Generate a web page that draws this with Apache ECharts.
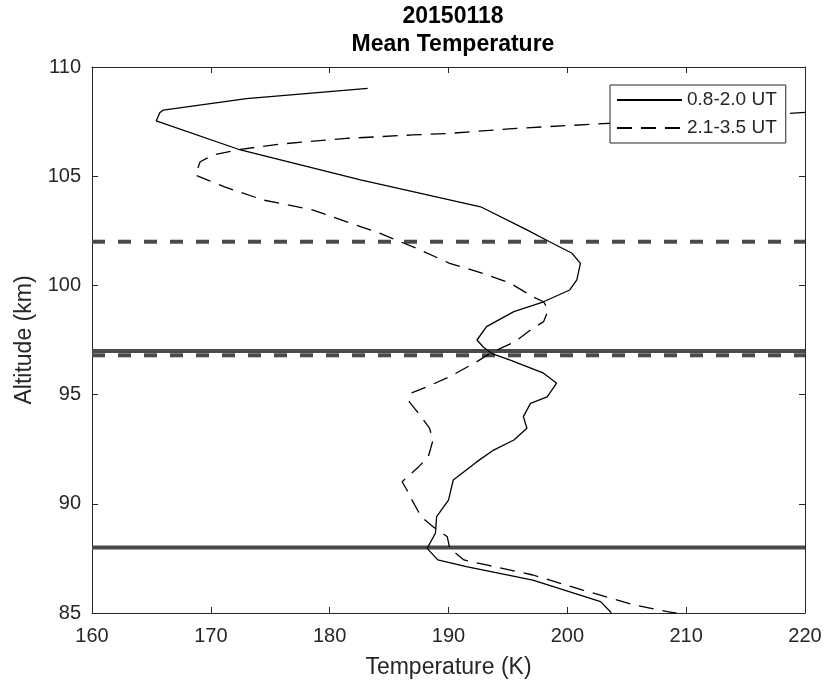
<!DOCTYPE html>
<html>
<head>
<meta charset="utf-8">
<script src="https://cdn.jsdelivr.net/npm/echarts@6/dist/echarts.min.js"></script>
<style>
  html, body { margin: 0; padding: 0; background: #fff; }
  #chart { width: 825px; height: 687px; }
</style>
</head>
<body>
<div id="chart"></div>
<script>
// Mean temperature profiles, 2015-01-18
const titleLines = ['20150118', 'Mean Temperature'];
const seriesNames = ['0.8-2.0 UT', '2.1-3.5 UT'];

// 0.8-2.0 UT profile, listed from top down
const earlyAlt = [109.02, 108.55, 108.03, 107.9, 107.53, 106.2, 104.83, 104.29, 103.6, 102.54,
  102.0, 101.47, 101.01, 100.25, 99.79, 99.25, 98.8, 98.11, 97.5, 97.19,
  96.89, 96.58, 95.98, 95.52, 94.9, 94.6, 93.99, 93.46, 92.92, 92.46,
  91.93, 91.09, 90.17, 89.41, 88.65, 87.96, 87.43, 87.12, 86.51, 85.52, 85.01];
const earlyTemp = [183.2, 173.0, 166.0, 165.7, 165.4, 172.5, 182.6, 187.0, 192.7, 196.6,
  198.5, 200.4, 201.1, 200.8, 200.2, 198.0, 195.5, 193.2, 192.4, 192.9,
  193.6, 195.2, 198.0, 199.1, 198.3, 196.9, 196.3, 196.6, 195.5, 193.8,
  192.4, 190.4, 190.0, 189.0, 188.9, 188.2, 189.1, 191.5, 197.1, 202.8, 203.7];

// 2.1-3.5 UT profile, listed from top down
const lateAlt = [107.92, 107.62, 107.39, 107.19, 106.96, 106.89, 106.73, 106.47, 106.23, 105.97,
  105.66, 105.05, 104.83, 104.52, 103.91, 103.45, 102.39, 101.7, 101.01, 100.55,
  100.1, 99.48, 99.25, 98.87, 98.34, 97.96, 97.42, 97.17, 96.89, 96.51,
  95.82, 95.36, 95.06, 94.67, 93.99, 93.46, 92.92, 92.16, 91.7, 91.01,
  90.63, 90.1, 89.41, 88.95, 88.49, 87.96, 87.43, 87.2, 86.74, 86.05,
  85.37, 85.06, 84.99];
const lateTemp = [220.0, 211.0, 202.5, 195.7, 190.1, 187.0, 181.4, 175.8, 172.5, 170.2,
  169.1, 168.7, 169.7, 171.1, 174.4, 178.6, 184.2, 187.3, 190.1, 192.9,
  195.2, 197.1, 198.0, 198.4, 198.0, 196.9, 195.6, 194.6, 193.5, 192.4,
  190.1, 188.2, 186.8, 186.7, 187.7, 188.4, 188.7, 188.3, 187.5, 186.1,
  186.5, 187.0, 187.7, 188.7, 189.9, 190.1, 191.3, 193.2, 197.1, 201.3,
  205.6, 208.4, 209.2];

// Horizontal layer boundaries (km) and their line styles
const boundaryAlt = [102, 97, 96.8, 88];
const boundaryDashed = [true, false, true, false];

// Axis ranges and ticks
const tempRange = [160, 220];
const tempStep = 10;
const altRange = [85, 110];
const altStep = 5;

const zip = (xs, ys) => xs.map((x, i) => [x, ys[i]]);

const axisColor = '#262626';
const fontFamily = 'Liberation Sans, Arial, sans-serif';
const tickFont = { color: axisColor, fontSize: 20, fontFamily: fontFamily };

const boundarySeries = boundaryAlt.map((a, i) => ({
  type: 'line',
  name: 'boundary' + i,
  data: [[tempRange[0], a], [tempRange[1], a]],
  symbol: 'none',
  silent: true,
  z: 1,
  lineStyle: {
    color: '#4a4a4a',
    width: 4,
    type: boundaryDashed[i] ? [13, 13] : 'solid',
    cap: 'butt'
  }
}));

const chart = echarts.init(document.getElementById('chart'), null, { renderer: 'canvas' });

chart.setOption({
  backgroundColor: '#fff',
  animation: false,
  title: {
    text: titleLines.join('\n'),
    left: 448,
    top: -2,
    textAlign: 'center',
    textStyle: {
      fontSize: 23,
      fontWeight: 'bold',
      lineHeight: 28,
      color: '#000',
      fontFamily: fontFamily
    }
  },
  grid: { left: 92, right: 20, top: 67, bottom: 74 },
  legend: {
    data: seriesNames,
    orient: 'vertical',
    left: 610,
    top: 85,
    itemWidth: 65,
    itemHeight: 14,
    itemGap: 6,
    padding: [4, 9, 4, 6],
    backgroundColor: '#fff',
    borderColor: axisColor,
    borderWidth: 1,
    borderRadius: 0,
    itemStyle: { opacity: 0 },
    textStyle: {
      fontSize: 19,
      lineHeight: 22,
      color: axisColor,
      fontFamily: fontFamily
    }
  },
  xAxis: [
    {
      type: 'value',
      min: tempRange[0], max: tempRange[1], interval: tempStep,
      position: 'bottom',
      name: 'Temperature (K)',
      nameLocation: 'middle',
      nameGap: 43,
      nameTextStyle: { color: axisColor, fontSize: 23, fontFamily: fontFamily },
      axisLine: { show: true, onZero: false, lineStyle: { color: axisColor, width: 1 } },
      axisTick: { show: true, inside: true, length: 6, lineStyle: { color: axisColor } },
      axisLabel: Object.assign({ margin: 13 }, tickFont),
      splitLine: { show: false }
    },
    {
      type: 'value',
      min: tempRange[0], max: tempRange[1], interval: tempStep,
      position: 'top',
      axisLine: { show: true, onZero: false, lineStyle: { color: axisColor, width: 1 } },
      axisTick: { show: true, inside: true, length: 6, lineStyle: { color: axisColor } },
      axisLabel: { show: false },
      splitLine: { show: false }
    }
  ],
  yAxis: [
    {
      type: 'value',
      min: altRange[0], max: altRange[1], interval: altStep,
      position: 'left',
      name: 'Altitude (km)',
      nameLocation: 'middle',
      nameGap: 56,
      nameTextStyle: { color: axisColor, fontSize: 23, fontFamily: fontFamily },
      axisLine: { show: true, onZero: false, lineStyle: { color: axisColor, width: 1 } },
      axisTick: { show: true, inside: true, length: 6, lineStyle: { color: axisColor } },
      axisLabel: Object.assign({ margin: 11 }, tickFont),
      splitLine: { show: false }
    },
    {
      type: 'value',
      min: altRange[0], max: altRange[1], interval: altStep,
      position: 'right',
      axisLine: { show: true, onZero: false, lineStyle: { color: axisColor, width: 1 } },
      axisTick: { show: true, inside: true, length: 6, lineStyle: { color: axisColor } },
      axisLabel: { show: false },
      splitLine: { show: false }
    }
  ],
  series: [
    {
      type: 'line',
      name: seriesNames[0],
      data: zip(earlyTemp, earlyAlt),
      symbol: 'none',
      z: 3,
      lineStyle: { color: '#000', width: 1.3 },
      itemStyle: { color: '#000' }
    },
    {
      type: 'line',
      name: seriesNames[1],
      data: zip(lateTemp, lateAlt),
      symbol: 'none',
      z: 3,
      lineStyle: { color: '#000', width: 1.3, type: [15, 9] },
      itemStyle: { color: '#000' }
    }
  ].concat(boundarySeries)
});
</script>
</body>
</html>
